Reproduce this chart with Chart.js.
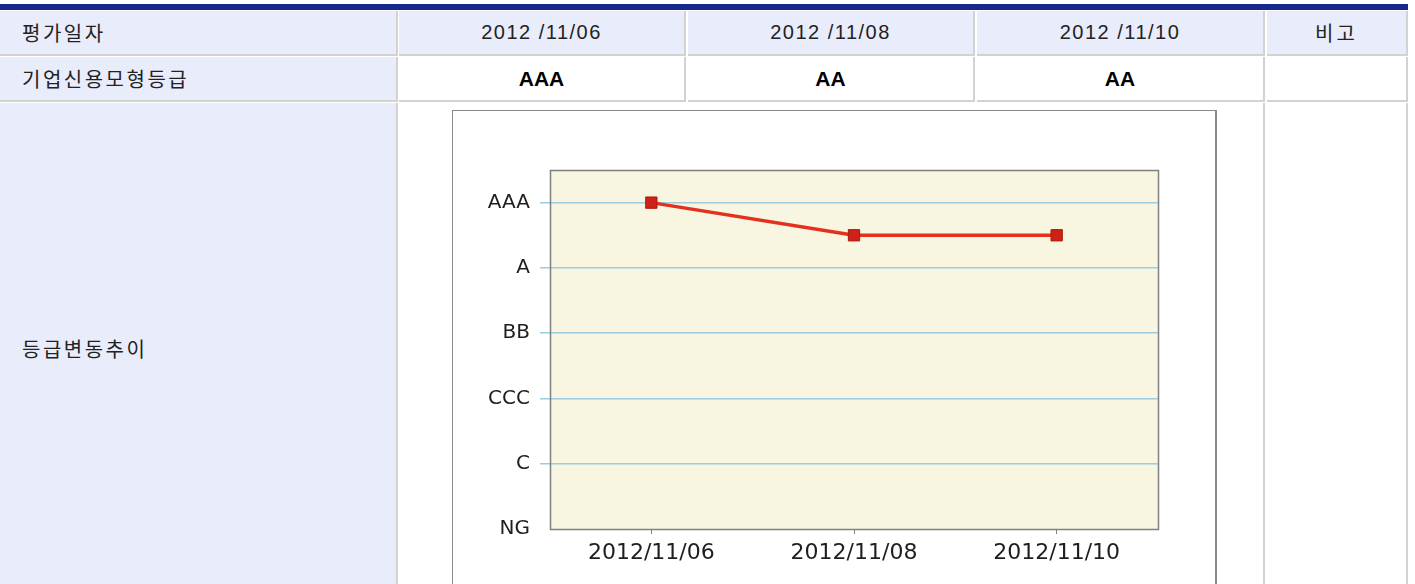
<!DOCTYPE html>
<html><head><meta charset="utf-8">
<script src="https://cdn.jsdelivr.net/npm/chart.js@4/dist/chart.umd.min.js"></script>
<style>
html,body{margin:0;padding:0;background:#fff;width:1415px;height:584px;overflow:hidden;}
.bar{position:absolute;left:0;top:4px;width:1408px;height:6px;background:#15288c;}
.c{position:absolute;box-sizing:border-box;border-right:2px solid #d2d2d2;border-bottom:2px solid #d2d2d2;display:flex;align-items:center;
 font-family:"Liberation Sans","Noto Sans CJK KR",sans-serif;font-size:20px;color:#222;}
.h{background:#e9ecfb;}
.w{background:#fff;}
.lbl{padding-left:22px;font-family:"Noto Sans CJK KR",sans-serif;font-size:20px;letter-spacing:2.5px;font-weight:400;color:#222;}
.ctr{justify-content:center;}
.dt{letter-spacing:1.5px;}
.b{font-weight:bold;font-size:21px;color:#000;}
.box{position:absolute;left:452px;top:110px;width:765px;height:490px;box-sizing:border-box;border:1px solid #8a8a8a;border-right:2px solid #8a8a8a;background:#fff;}
canvas{position:absolute;left:0;top:0;}
</style></head><body>
<div class="bar"></div>
<!-- row 1 -->
<div class="c h lbl" style="left:0;top:11px;width:398px;height:45px;">평가일자</div>
<div class="c h ctr dt" style="left:399px;top:11px;width:287px;height:45px;" id="d0"></div>
<div class="c h ctr dt" style="left:688px;top:11px;width:287px;height:45px;" id="d1"></div>
<div class="c h ctr dt" style="left:977px;top:11px;width:288px;height:45px;" id="d2"></div>
<div class="c h ctr" style="left:1267px;top:11px;width:141px;height:45px;font-family:'Noto Sans CJK KR';letter-spacing:3px;">비고</div>
<!-- row 2 -->
<div class="c h lbl" style="left:0;top:57px;width:398px;height:45px;">기업신용모형등급</div>
<div class="c w ctr b" style="left:399px;top:57px;width:287px;height:45px;" id="g0"></div>
<div class="c w ctr b" style="left:688px;top:57px;width:287px;height:45px;" id="g1"></div>
<div class="c w ctr b" style="left:977px;top:57px;width:288px;height:45px;" id="g2"></div>
<div class="c w" style="left:1267px;top:57px;width:141px;height:45px;"></div>
<!-- row 3 -->
<div class="c h lbl" style="left:0;top:103px;width:398px;height:492px;">등급변동추이</div>
<div class="c w" style="left:399px;top:103px;width:866px;height:492px;"></div>
<div class="c w" style="left:1267px;top:103px;width:141px;height:492px;"></div>
<div class="box"><canvas id="cv" width="762" height="478"></canvas></div>
<script>
// ---- data ----
const dates = ['2012/11/06', '2012/11/08', '2012/11/10'];
const headerDates = ['2012 /11/06', '2012 /11/08', '2012 /11/10'];
const grades = ['AAA', 'AA', 'AA'];
const gradeScale = ['NG', 'D', 'C', 'CC', 'CCC', 'B', 'BB', 'BBB', 'A', 'AA', 'AAA'];
const yTickValues = [0, 2, 4, 6, 8, 10];
const yMax = 11;

headerDates.forEach((d, i) => document.getElementById('d' + i).textContent = d);
grades.forEach((g, i) => document.getElementById('g' + i).textContent = g);

const values = grades.map(g => gradeScale.indexOf(g));

const plotDeco = {
  id: 'plotDeco',
  beforeDraw(chart) {
    const a = chart.chartArea, ctx = chart.ctx;
    ctx.save();
    ctx.fillStyle = '#f8f5e0';
    ctx.fillRect(a.left, a.top, a.right - a.left, a.bottom - a.top);
    ctx.restore();
  },
  beforeDatasetsDraw(chart) {
    const a = chart.chartArea, ctx = chart.ctx;
    ctx.save();
    ctx.strokeStyle = '#808080';
    ctx.lineWidth = 1.5;
    ctx.strokeRect(Math.round(a.left) + 0.5, Math.round(a.top) + 0.5, Math.round(a.right - a.left), Math.round(a.bottom - a.top));
    ctx.restore();
  }
};

new Chart(document.getElementById('cv'), {
  type: 'line',
  data: {
    labels: dates,
    datasets: [{
      data: values,
      borderColor: '#e4311f',
      borderWidth: 3.5,
      tension: 0,
      fill: false,
      pointStyle: 'rect',
      pointRadius: 8,
      pointHoverRadius: 8,
      pointBackgroundColor: '#cf2117',
      pointBorderColor: '#a8190f',
      pointBorderWidth: 1
    }]
  },
  options: {
    responsive: false,
    animation: false,
    devicePixelRatio: 1,
    layout: { padding: { top: 59, right: 57, left: 0, bottom: 0 } },
    plugins: { legend: { display: false }, tooltip: { enabled: false }, title: { display: false } },
    scales: {
      x: {
        type: 'category',
        offset: true,
        afterFit: s => { s.height = 60; },
        grid: { display: true, drawOnChartArea: false, drawTicks: true, tickLength: 5, tickColor: '#808080', offset: false },
        border: { display: false },
        ticks: { font: { family: 'DejaVu Sans', size: 22 }, color: '#1e1e1e', padding: 6, maxRotation: 0, autoSkip: false }
      },
      y: {
        min: 0, max: yMax,
        afterBuildTicks: s => { s.ticks = yTickValues.map(v => ({ value: v })); },
        afterFit: s => { s.width = 97; },
        grid: {
          drawTicks: true, tickLength: 10,
          color: c => (c.tick && c.tick.value > 0) ? '#9ccce0' : 'rgba(0,0,0,0)',
          tickColor: c => (c.tick && c.tick.value > 0) ? '#9ccce0' : 'rgba(0,0,0,0)',
          lineWidth: 1.5
        },
        border: { display: false },
        ticks: {
          font: { family: 'DejaVu Sans', size: 20 }, color: '#1e1e1e', padding: 10,
          callback: v => gradeScale[v] ?? ''
        }
      }
    }
  },
  plugins: [plotDeco]
});
</script>
</body></html>
